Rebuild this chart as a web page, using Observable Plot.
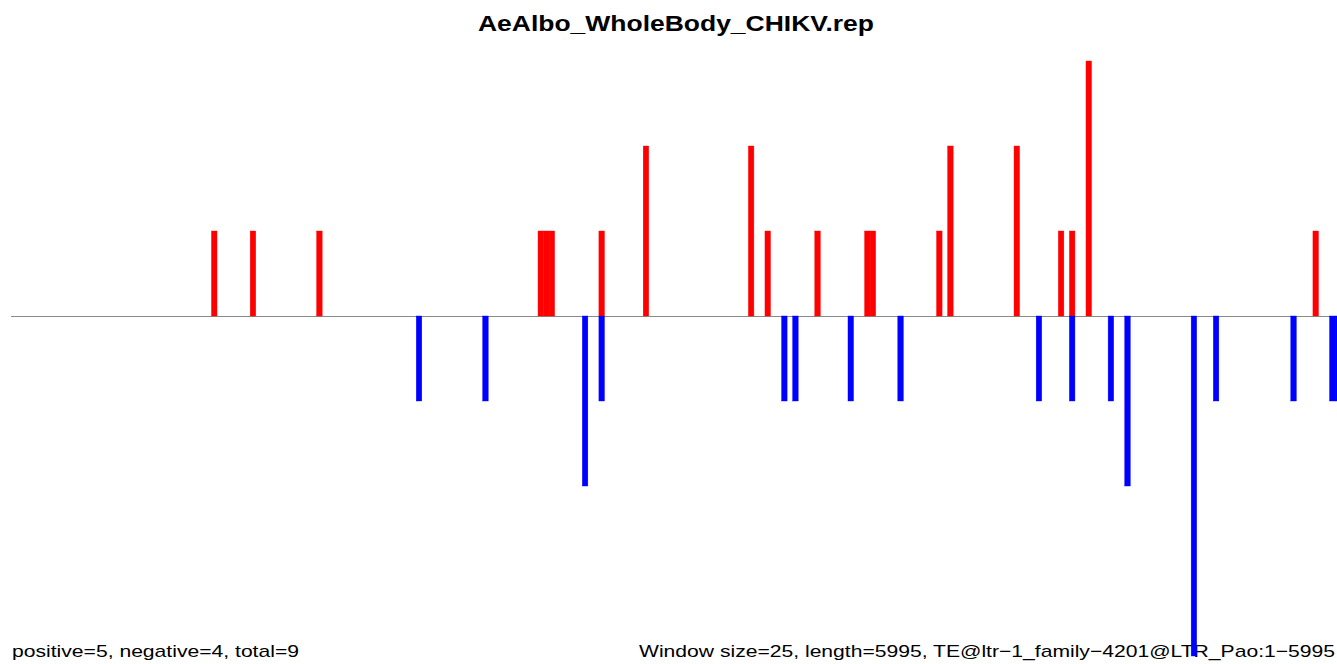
<!DOCTYPE html>
<html>
<head>
<meta charset="utf-8">
<script src="https://cdn.jsdelivr.net/npm/d3@7"></script>
<script src="https://cdn.jsdelivr.net/npm/@observablehq/plot@0.6"></script>
<style>
  html, body { margin: 0; padding: 0; background: #fff; overflow: hidden; }
  #chart svg { display: block; max-width: none; overflow: hidden; }
</style>
</head>
<body>
<div id="chart"></div>
<script>
// ---- data (window indices; window size 25 nt, sequence length 5995 nt) ----
const windowSize = 25;
const seqLength = 5995;
const chartTitle = "AeAlbo_WholeBody_CHIKV.rep";
const leftNote = "positive=5, negative=4, total=9";
const rightNote = "Window size=25, length=5995, TE@ltr\u22121_family\u22124201@LTR_Pao:1\u22125995";

const posWindows = [36, 43, 55, 95, 96, 97, 106, 114, 133, 136, 145, 154, 155, 167, 169, 181, 189, 191, 194, 235];
const posCounts  = [ 1,  1,  1,  1,  1,  1,   1,   2,   2,   1,   1,   1,   1,   1,   2,   2,   1,   1,   3,   1];

const negWindows = [73, 85, 103, 106, 139, 141, 151, 160, 185, 191, 198, 201, 213, 217, 231, 238, 239];
const negCounts  = [ 1,  1,   2,   1,   1,   1,   1,   1,   1,   1,   1,   2,   4,   1,   1,   1,   1];

const posData = posWindows.map((w, i) => ({start: w * windowSize, value: posCounts[i]}));
const negData = negWindows.map((w, i) => ({start: w * windowSize, value: -negCounts[i]}));

const W = 1337, H = 664;

const plot = Plot.plot({
  width: W,
  height: H,
  marginTop: 61,
  marginBottom: 8,
  marginLeft: 11,
  marginRight: 0,
  x: {domain: [0, seqLength], range: [12.2, 1339.5], axis: null},
  y: {domain: [-4, 3], range: [656, 61], axis: null},
  marks: [
    Plot.ruleY([0], {stroke: "#8a8a8a", strokeWidth: 1}),
    Plot.rect(posData, {x1: "start", x2: d => d.start + windowSize, y1: 0, y2: "value", fill: "#ff0000", inset: 0, stroke: "#ff0000", strokeWidth: 0.4}),
    Plot.rect(negData, {x1: "start", x2: d => d.start + windowSize, y1: 0, y2: "value", fill: "#0000ff", inset: 0, stroke: "#0000ff", strokeWidth: 0.4})
  ]
});

document.getElementById("chart").appendChild(plot);

const svg = d3.select(plot);
const font = "'Liberation Sans', Arial, Helvetica, sans-serif";

// texts are placed beneath the marks (as in the reference, the long bar covers the footer text)
const textLayer = svg.insert("g", ":first-child");

textLayer.append("text")
  .attr("x", 676).attr("y", 31)
  .attr("text-anchor", "middle")
  .attr("font-family", font).attr("font-weight", "bold").attr("font-size", 22)
  .attr("fill", "#000")
  .attr("textLength", 396).attr("lengthAdjust", "spacingAndGlyphs")
  .text(chartTitle);

textLayer.append("text")
  .attr("x", 12).attr("y", 657)
  .attr("text-anchor", "start")
  .attr("font-family", font).attr("font-size", 17)
  .attr("fill", "#000")
  .attr("textLength", 287).attr("lengthAdjust", "spacingAndGlyphs")
  .text(leftNote);

textLayer.append("text")
  .attr("x", 639).attr("y", 657)
  .attr("text-anchor", "start")
  .attr("font-family", font).attr("font-size", 17)
  .attr("fill", "#000")
  .attr("textLength", 696).attr("lengthAdjust", "spacingAndGlyphs")
  .text(rightNote);
</script>
</body>
</html>
